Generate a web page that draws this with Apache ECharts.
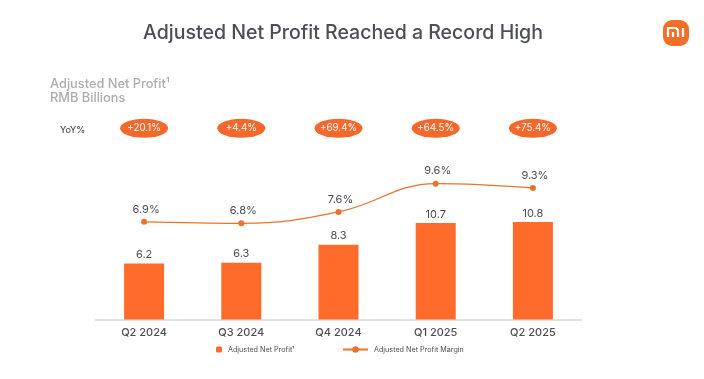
<!DOCTYPE html>
<html>
<head>
<meta charset="utf-8">
<style>
html, body { margin: 0; padding: 0; background: #fff; }
#chart { width: 704px; height: 379px; }
</style>
<script src="https://cdn.jsdelivr.net/npm/echarts@6/dist/echarts.min.js"></script>
</head>
<body>
<div id="chart"></div>
<script>
var quarters = ['Q2 2024', 'Q3 2024', 'Q4 2024', 'Q1 2025', 'Q2 2025'];
var profit = [6.2, 6.3, 8.3, 10.7, 10.8];
var margin = [6.9, 6.8, 7.6, 9.6, 9.3];
var yoy = ['+20.1%', '+4.4%', '+69.4%', '+64.5%', '+75.4%'];
var yoyRow = [21.2, 21.2, 21.2, 21.2, 21.2];

var fontName = 'Inter';
var textColor = '#4b4e55';
var orange = '#ff6b2b';
var lineOrange = '#e9732c';

var chart = echarts.init(document.getElementById('chart'));

var logoStroke = { fill: 'none', stroke: '#fff', lineWidth: 2.2 };

var option = {
    animation: false,
    backgroundColor: '#fff',
    textStyle: { fontFamily: fontName },
    title: [
        { text: 'Adjusted Net Profit Reached a Record High', left: 143, top: 23, padding: 0,
          textStyle: { fontFamily: fontName, fontSize: 19.55, fontWeight: 500, color: '#4b4e55' } },
        { text: 'Adjusted Net Profit¹', left: 50, top: 78, padding: 0,
          textStyle: { fontFamily: fontName, fontSize: 12.8, fontWeight: 500, color: '#adadad' } },
        { text: 'RMB Billions', left: 50, top: 92, padding: 0,
          textStyle: { fontFamily: fontName, fontSize: 12.8, fontWeight: 500, color: '#adadad' } },
        { text: 'YoY%', left: 60, top: 126, padding: 0,
          textStyle: { fontFamily: fontName, fontSize: 9, fontWeight: 500, color: textColor } }
    ],
    legend: [
        { data: ['Adjusted Net Profit¹'], left: 216, top: 346, padding: 0, itemWidth: 6, itemHeight: 6, itemGap: 4,
          textStyle: { fontSize: 7.2, color: textColor, fontFamily: fontName, padding: [0, 0, 0, 1] } },
        { data: ['Adjusted Net Profit Margin'], left: 342, top: 346, padding: 0, itemWidth: 25, itemHeight: 8, itemGap: 4,
          textStyle: { fontSize: 7.2, color: textColor, fontFamily: fontName, padding: [0, 0, 0, 1] } }
    ],
    grid: { left: 95.5, right: 122.5, top: 103, height: 216.5 },
    xAxis: {
        type: 'category',
        data: quarters,
        axisTick: { show: false },
        axisLine: { lineStyle: { color: '#d9d9d9', width: 1.5 } },
        axisLabel: { color: textColor, fontSize: 11, fontWeight: 500, margin: 8, fontFamily: fontName }
    },
    yAxis: [
        { type: 'value', min: 0, max: 24, show: false, splitLine: { show: false } },
        { type: 'value', min: 0, max: 15.3, show: false, splitLine: { show: false } }
    ],
    series: [
        {
            name: 'Adjusted Net Profit¹',
            type: 'bar',
            data: profit,
            barWidth: 40,
            itemStyle: { color: orange },
            label: { show: true, position: 'top', distance: 5, offset: [0, 2], color: textColor, fontSize: 11, fontFamily: fontName }
        },
        {
            name: 'Adjusted Net Profit Margin',
            type: 'line',
            yAxisIndex: 1,
            data: margin,
            smooth: 0.4,
            symbol: 'circle',
            symbolSize: 6,
            itemStyle: { color: lineOrange },
            lineStyle: { color: lineOrange, width: 1.3 },
            label: { show: true, position: 'top', distance: 5, offset: [2, 1], color: textColor, fontSize: 11, fontFamily: fontName,
                formatter: function (p) { return p.value.toFixed(1) + '%'; } }
        },
        {
            name: 'YoY',
            type: 'scatter',
            data: yoyRow,
            symbol: 'circle',
            symbolSize: [48, 19],
            itemStyle: { color: '#f4682c', opacity: 1 },
            label: { show: true, position: 'inside', color: '#fff', fontSize: 9.8, fontFamily: fontName,
                formatter: function (p) { return yoy[p.dataIndex]; } }
        }
    ],
    graphic: [
        { type: 'rect', left: 663, top: 20, shape: { width: 26, height: 26, r: 9 }, style: { fill: '#f0702a' } },
        { type: 'polyline', shape: { points: [[668, 37], [668, 28], [676, 28], [678, 30], [678, 37]] }, style: logoStroke },
        { type: 'line', shape: { x1: 673, y1: 32, x2: 673, y2: 37 }, style: logoStroke },
        { type: 'line', shape: { x1: 683, y1: 28, x2: 683, y2: 37 }, style: logoStroke }
    ]
};

chart.setOption(option);
</script>
</body>
</html>
